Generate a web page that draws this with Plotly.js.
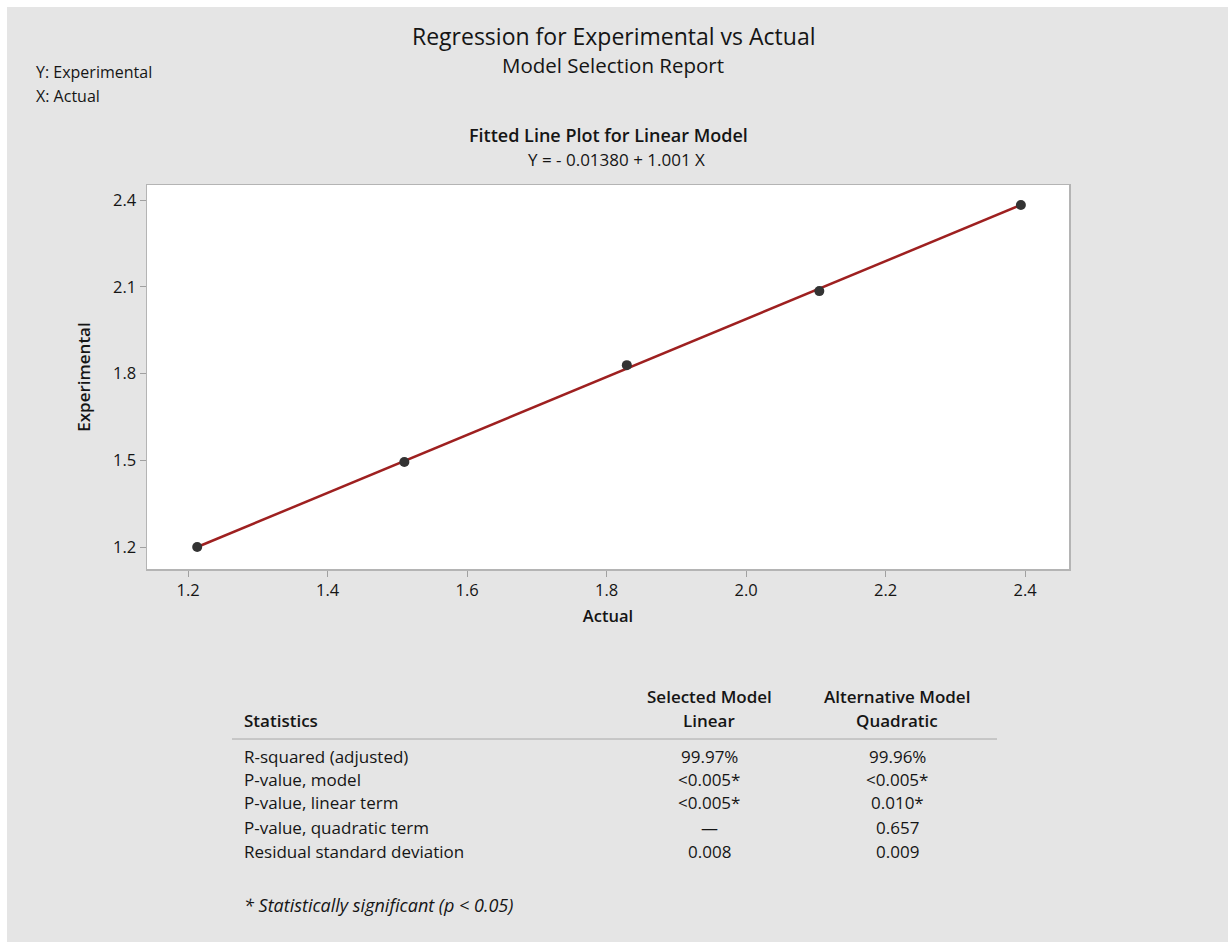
<!DOCTYPE html>
<html><head><meta charset="utf-8">
<script src="https://cdn.plot.ly/plotly-3.0.1.min.js"></script>
<style>
html,body{margin:0;padding:0;background:#ffffff;}
#chart{position:absolute;left:7px;top:7px;width:1221px;height:935px;}
</style></head>
<body><div id="chart"></div>
<script>
// ---- data ----
var actual = [1.213, 1.510, 1.829, 2.105, 2.394];
var experimental = [1.200, 1.494, 1.829, 2.085, 2.383];
var fitX = [1.213, 2.394];
var fitY = [1.200, 2.383];
var xTicks = [1.2, 1.4, 1.6, 1.8, 2.0, 2.2, 2.4];
var xTickText = ["1.2", "1.4", "1.6", "1.8", "2.0", "2.2", "2.4"];
var yTicks = [1.2, 1.5, 1.8, 2.1, 2.4];
var yTickText = ["1.2", "1.5", "1.8", "2.1", "2.4"];
var statNames = ["R-squared (adjusted)", "P-value, model", "P-value, linear term", "P-value, quadratic term", "Residual standard deviation"];
var linearVals = ["99.97%", "<0.005*", "<0.005*", "\u2014", "0.008"];
var quadraticVals = ["99.96%", "<0.005*", "0.010*", "0.657", "0.009"];

// ---- layout helpers (pixel -> paper) ----
var W = 1221, H = 935, offX = 7, offY = 7;
var mL = 140, mT = 178, mR = 159, mB = 373;
var pw = W - mL - mR, ph = H - mT - mB;
function px(x){ return (x - offX - mL) / pw; }
function py(y){ return 1 - (y - offY - mT) / ph; }
var FONT = "Open Sans, Noto Sans, sans-serif";
var TXT = "#151515";
var anns = [];
function addText(t, x, y, size, opts){
  opts = opts || {};
  anns.push({text: t, xref: "paper", yref: "paper", x: px(x), y: py(y),
    xanchor: opts.xa || "center", yanchor: "middle", showarrow: false, borderpad: 0,
    font: {family: FONT, size: size, color: TXT, weight: opts.w || 400, style: opts.style || "normal"}});
}
addText("Y: Experimental", 35, 72, 16, {xa: "left"});
addText("X: Actual", 35, 96, 16, {xa: "left"});
addText("Regression for Experimental vs Actual", 613, 36, 23);
addText("Model Selection Report", 613, 65, 20.5);
addText("Fitted Line Plot for Linear Model", 608, 135, 18, {w: 600});
addText("Y = - 0.01380 + 1.001 X", 616, 160, 17);

// table
addText("Statistics", 243, 720, 17, {xa: "left", w: 600});
addText("Selected Model", 709, 696, 17, {w: 600});
addText("Linear", 709, 720, 17, {w: 600});
addText("Alternative Model", 897, 696, 17, {w: 600});
addText("Quadratic", 897, 720, 17, {w: 600});
var rowY = [756, 779, 802, 827, 851];
for (var i = 0; i < statNames.length; i++) {
  addText(statNames[i], 243, rowY[i], 17, {xa: "left"});
  addText(linearVals[i], 709, rowY[i], 17);
  addText(quadraticVals[i], 897, rowY[i], 17);
}
addText("* Statistically significant (p &lt; 0.05)", 243, 905, 18, {xa: "left", style: "italic"});

var shapes = [{type: "line", xref: "paper", yref: "paper", x0: px(232), x1: px(997), y0: py(739), y1: py(739),
  line: {color: "#a8a8a8", width: 1}}];

var traces = [
  {x: fitX, y: fitY, type: "scatter", mode: "lines", line: {color: "#9e2020", width: 2.5}, hoverinfo: "skip"},
  {x: actual, y: experimental, type: "scatter", mode: "markers", marker: {color: "#333333", size: 10}}
];

var axisCommon = {showgrid: false, zeroline: false, showline: true, mirror: true, linecolor: "#b4b4b4", linewidth: 1.5,
  ticks: "outside", ticklen: 6, tickcolor: "#a0a0a0", tickwidth: 1,
  tickfont: {family: FONT, size: 16.5, color: TXT}};

var layout = {
  width: W, height: H, showlegend: false,
  paper_bgcolor: "#e5e5e5", plot_bgcolor: "#ffffff",
  margin: {l: mL, t: mT, r: mR, b: mB, pad: 0},
  xaxis: Object.assign({}, axisCommon, {range: [1.141, 2.463], tickvals: xTicks, ticktext: xTickText,
    title: {text: "Actual", font: {family: FONT, size: 16.5, color: TXT, weight: 600}, standoff: 10}}),
  yaxis: Object.assign({}, axisCommon, {range: [1.124, 2.452], tickvals: yTicks, ticktext: yTickText,
    title: {text: "Experimental", font: {family: FONT, size: 17, color: TXT, weight: 600}, standoff: 18}}),
  annotations: anns, shapes: shapes
};
Plotly.newPlot("chart", traces, layout, {displayModeBar: false, staticPlot: true});
</script></body></html>
